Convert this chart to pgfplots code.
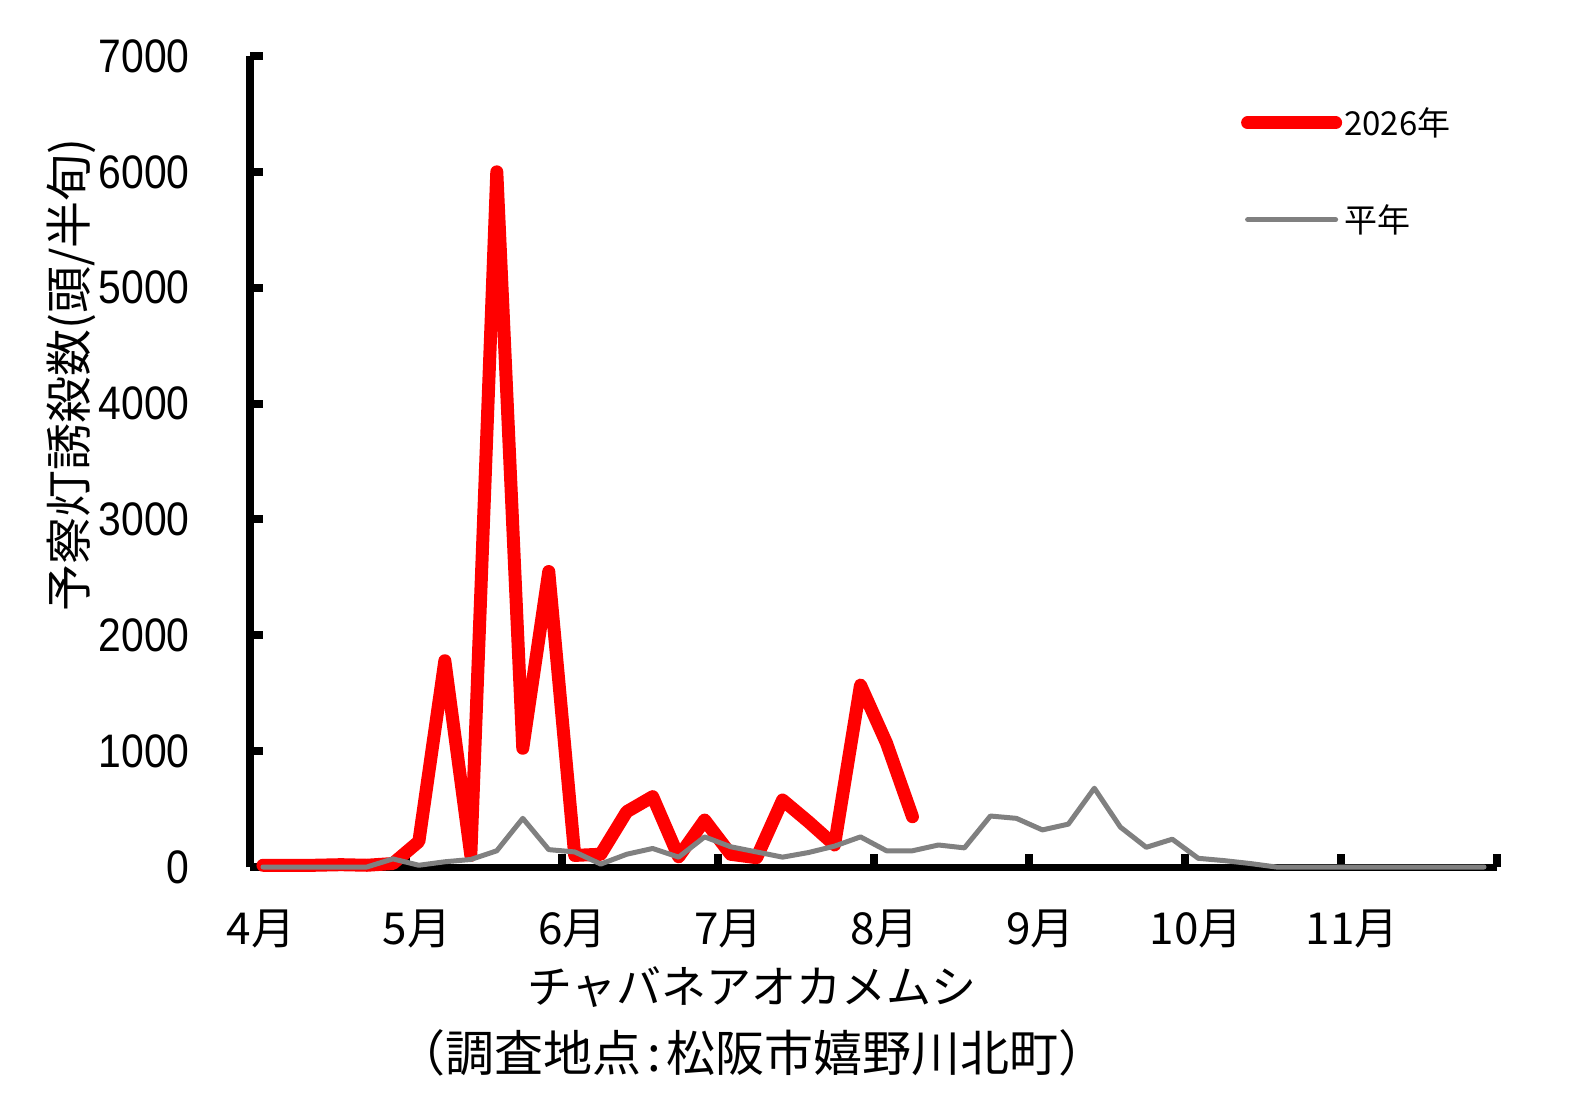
\documentclass[border=0pt]{standalone}
\usepackage{fontspec}
\setmainfont{Noto Sans CJK JP}
\newfontfamily\numfont[FakeStretch=0.87]{Liberation Sans}
\usepackage{pgfplots}
\pgfplotsset{compat=1.18}
\definecolor{avggray}{RGB}{128,128,128}
\begin{document}
\begin{tikzpicture}[x=1pt,y=1pt]
\useasboundingbox (0,0) rectangle (792.5,554.5);
\begin{axis}[
  at={(125pt,121pt)}, anchor=south west,
  scale only axis, width=623.5pt, height=405.5pt,
  xmin=0.5, xmax=48.5, ymin=0, ymax=7000,
  axis lines*=left,
  x axis line style={line width=3.5pt},
  y axis line style={line width=4pt},
  tick align=inside,
  major tick length=6.5pt,
  major tick style={black, line width=4pt},
  xtick={0.5,6.5,...,48.5},
  xticklabels={4月,5月,6月,7月,8月,9月,10月,11月,{}},
  ytick={0,1000,...,7000},
  yticklabels={0,1000,2000,3000,4000,5000,6000,7000},
  xticklabel style={font=\fontsize{22}{22}\selectfont, anchor=center, yshift=-31pt, xshift=5.5pt},
  yticklabel style={font=\numfont\fontsize{23.5}{23.5}\selectfont, anchor=east, inner sep=0pt, xshift=-30pt},
  clip=false,
  legend cell align=left,
  legend style={at={(0.7945,0.9396)}, anchor=north west, draw=none, fill=none,
    font=\fontsize{16.5}{16.5}\selectfont, row sep=31pt, inner sep=0pt,
    nodes={inner sep=1pt}},
  legend image code/.code={\draw[#1, line cap=round] (0pt,0pt) -- (44pt,0pt);},
]
\addplot[color=red, line width=6.5pt, line join=round, line cap=round] coordinates {
(1,15) (2,15) (3,15) (4,20) (5,15) (6,30) (7,220) (8,1780) (9,100) (10,6000)
(11,1025) (12,2550) (13,100) (14,110) (15,477) (16,607) (17,88) (18,405) (19,110) (20,80)
(21,578) (22,390) (23,190) (24,1570) (25,1070) (26,434)
};
\addlegendentry{2026年}
\addplot[color=avggray, line width=2.5pt, line join=round, line cap=round] coordinates {
(1,0) (2,0) (3,0) (4,0) (5,0) (6,70) (7,15) (8,45) (9,65) (10,140)
(11,420) (12,150) (13,130) (14,25) (15,110) (16,160) (17,85) (18,260) (19,175) (20,130)
(21,85) (22,125) (23,180) (24,260) (25,140) (26,140) (27,190) (28,165) (29,440) (30,420)
(31,320) (32,370) (33,680) (34,345) (35,170) (36,240) (37,75) (38,55) (39,30) (40,0)
(41,0) (42,0) (43,0) (44,0) (45,0) (46,0) (47,0) (48,0)
};
\addlegendentry{平年}
\end{axis}
\node[font=\fontsize{22.5}{22.5}\selectfont] at (376,61) {チャバネアオカメムシ};
\node[font=\fontsize{24.5}{24.5}\selectfont] at (376,28) {（調査地点\hspace{0.12em}:\hspace{0.12em}松阪市嬉野川北町）};
\node[rotate=90, font=\fontsize{23.5}{23.5}\selectfont] at (35.5,367) {予察灯誘殺数(頭/半旬)};
\end{tikzpicture}
\end{document}
